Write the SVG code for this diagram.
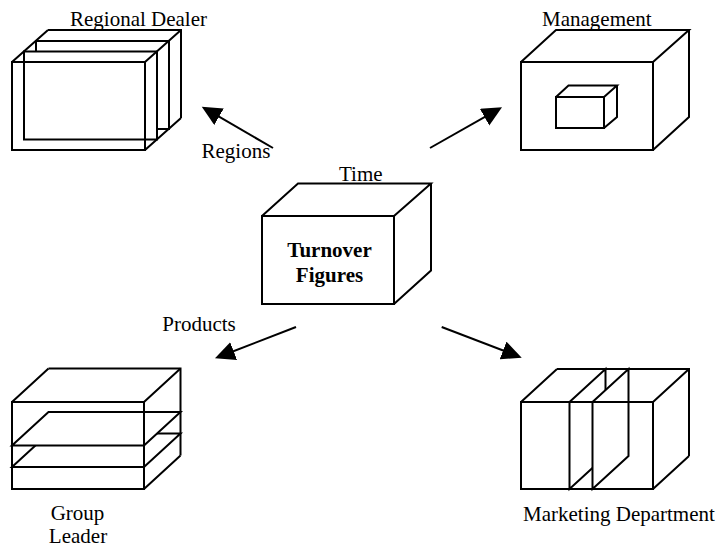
<svg xmlns="http://www.w3.org/2000/svg" width="717" height="546" viewBox="0 0 717 546">
  <style>
    .edge { fill: none; stroke: #000; stroke-width: 2; stroke-linejoin: miter; }
    .face { fill: #fff; stroke: #000; stroke-width: 2; stroke-linejoin: miter; }
    .label { font-family: "Liberation Serif", "Times New Roman", serif; font-size: 21px; fill: #000; }
    .title { font-family: "Liberation Serif", "Times New Roman", serif; font-size: 21px; font-weight: bold; fill: #000; }
    .conn { stroke: #000; stroke-width: 2; fill: none; }
  </style>
  <defs>
    <marker id="arrow" markerUnits="userSpaceOnUse" markerWidth="22" markerHeight="20" refX="10" refY="9.5" orient="auto">
      <path d="M0,0 L20,9.5 L0,19 Z" fill="#000"/>
    </marker>
  </defs>
  <rect width="717" height="546" fill="#fff"/>

  <!-- Regional Dealer: box sliced into front-parallel layers -->
  <g id="regional-dealer">
    <path class="edge" d="M48,30 H181 V118"/>
    <rect class="face" x="36" y="41" width="133" height="88"/>
    <rect class="face" x="24" y="51.5" width="133" height="88"/>
    <rect class="edge" x="12" y="62" width="133" height="88"/>
    <path class="edge" d="M12,62 L48,30 M145,62 L181,30 M145,150 L181,118"/>
    <text class="label" x="70" y="25.5">Regional Dealer</text>
  </g>

  <!-- Management: box holding a small box -->
  <g id="management">
    <rect class="face" x="521" y="62" width="132" height="88"/>
    <path class="edge" d="M521,62 L556,30 H689 L653,62 M689,30 V117 L653,150"/>
    <rect class="face" x="556" y="97" width="48" height="31"/>
    <path class="edge" d="M556,97 L568.5,85.5 H617 L604,97 M617,85.5 V117 L604,128"/>
    <text class="label" x="542" y="26">Management</text>
  </g>

  <!-- Central cube -->
  <g id="turnover-figures">
    <rect class="face" x="262" y="216" width="132" height="88"/>
    <path class="edge" d="M262,216 L298,183.5 H431 L394,216 M431,183.5 V270.5 L394,304"/>
    <text class="title" x="329.5" y="256.5" text-anchor="middle">Turnover</text>
    <text class="title" x="329.5" y="282" text-anchor="middle">Figures</text>
    <text class="label" x="339" y="180.5">Time</text>
  </g>

  <!-- Group Leader: box sliced horizontally -->
  <g id="group-leader">
    <path class="edge" d="M48.5,368.5 H180.5 V455.5"/>
    <path class="face" d="M12,467 L48.5,433.5 H180.5 L144,467 Z"/>
    <path class="face" d="M12,445.5 L48.5,412 H180.5 L144,445.5 Z"/>
    <rect class="edge" x="12" y="402" width="132" height="87"/>
    <path class="edge" d="M12,402 L48.5,368.5 M144,402 L180.5,368.5 M144,489 L180.5,455.5"/>
    <text class="label" x="77.5" y="519.5" text-anchor="middle">Group</text>
    <text class="label" x="78" y="542.5" text-anchor="middle">Leader</text>
  </g>

  <!-- Marketing Department: box sliced vertically -->
  <g id="marketing-department">
    <path class="edge" d="M557,369 H689 V456"/>
    <path class="face" d="M569.5,402 L605.5,369 V456 L569.5,489 Z"/>
    <path class="face" d="M592.5,402 L628.5,369 V456 L592.5,489 Z"/>
    <rect class="edge" x="521" y="402" width="132" height="87"/>
    <path class="edge" d="M521,402 L557,369 M653,402 L689,369 M653,489 L689,456"/>
    <text class="label" x="523" y="521">Marketing Department</text>
  </g>

  <!-- Connectors from the central cube -->
  <g id="connectors">
    <line class="conn" x1="273" y1="148" x2="210.4" y2="111.7" marker-end="url(#arrow)"/>
    <line class="conn" x1="430" y1="148" x2="493.3" y2="112.2" marker-end="url(#arrow)"/>
    <line class="conn" x1="296" y1="327" x2="224.3" y2="354.7" marker-end="url(#arrow)"/>
    <line class="conn" x1="441.7" y1="327" x2="512.4" y2="354.1" marker-end="url(#arrow)"/>
    <text class="label" x="201.5" y="158">Regions</text>
    <text class="label" x="162.3" y="330.5">Products</text>
  </g>
</svg>
